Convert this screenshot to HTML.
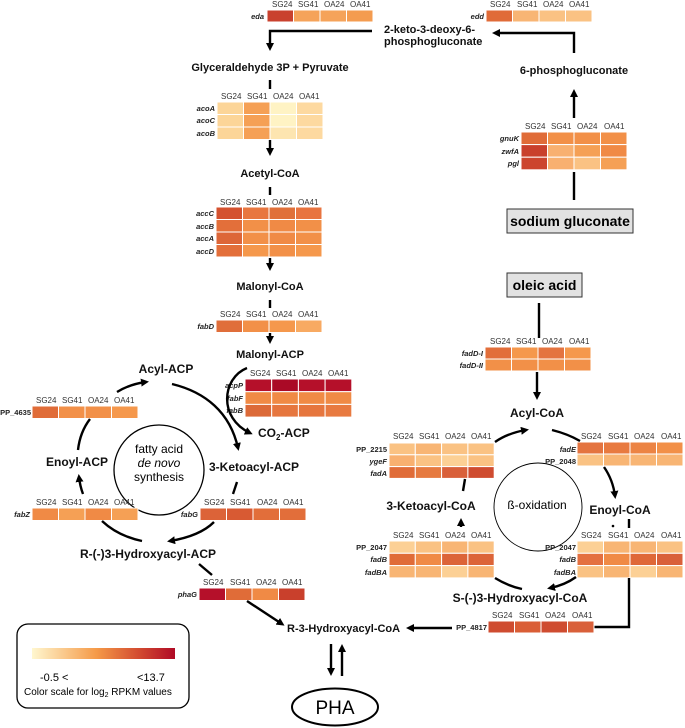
<!DOCTYPE html>
<html><head><meta charset="utf-8"><style>
html,body{margin:0;padding:0;background:#fff}
svg{display:block}
text{font-family:"Liberation Sans",sans-serif}
.b{font-weight:bold;font-size:11px;fill:#111}
.h{font-size:8px;fill:#333}
.g{font-size:7.5px;font-style:italic;font-weight:bold;fill:#222}
.gp{font-size:7.5px;font-weight:bold;fill:#222}
rect.c{stroke:#fff;stroke-width:1}
.ln{stroke:#000;stroke-width:2.4;fill:none}
</style></head><body>
<svg width="685" height="728" viewBox="0 0 685 728" xmlns="http://www.w3.org/2000/svg">
<defs>
<marker id="a" markerWidth="8" markerHeight="8" refX="5" refY="4" orient="auto" markerUnits="userSpaceOnUse"><path d="M0,0 L8,4 L0,8 Z" fill="#000"/></marker>
<linearGradient id="lg" x1="0" x2="1"><stop offset="0" stop-color="#fff7cf"/><stop offset="0.45" stop-color="#f59a48"/><stop offset="0.75" stop-color="#d24a30"/><stop offset="1" stop-color="#b00a26"/></linearGradient>
</defs>

<!-- eda -->
<g class="h"><text x="272" y="7">SG24</text><text x="298" y="7">SG41</text><text x="324" y="7">OA24</text><text x="350" y="7">OA41</text></g>
<text class="g" x="264" y="19" text-anchor="end">eda</text>
<rect class="c" x="267" y="10" width="26.5" height="12" fill="#c9412e"/><rect class="c" x="293.5" y="10" width="26.5" height="12" fill="#f5a35a"/><rect class="c" x="320" y="10" width="26.5" height="12" fill="#f5a35a"/><rect class="c" x="346.5" y="10" width="26.5" height="12" fill="#f49c50"/>

<!-- edd -->
<g class="h"><text x="490" y="7">SG24</text><text x="517" y="7">SG41</text><text x="543" y="7">OA24</text><text x="569" y="7">OA41</text></g>
<text class="g" x="484" y="19" text-anchor="end">edd</text>
<rect class="c" x="486" y="10" width="26.5" height="12" fill="#e06b38"/><rect class="c" x="512.5" y="10" width="26.5" height="12" fill="#f8b574"/><rect class="c" x="539" y="10" width="26.5" height="12" fill="#fac283"/><rect class="c" x="565.5" y="10" width="26.5" height="12" fill="#fac283"/>

<text class="b" x="384" y="33">2-keto-3-deoxy-6-</text>
<text class="b" x="384" y="45">phosphogluconate</text>
<path class="ln" d="M372,31 L270,31 L270,48" marker-end="url(#a)"/>
<path class="ln" d="M574,53 L574,33 L495,33" marker-end="url(#a)"/>
<text class="b" x="574" y="74" text-anchor="middle">6-phosphogluconate</text>
<path class="ln" d="M574,118 L574,92" marker-end="url(#a)"/>
<path class="ln" d="M574,172 L574,200"/>

<!-- gnuK -->
<g class="h"><text x="525" y="129">SG24</text><text x="551" y="129">SG41</text><text x="577" y="129">OA24</text><text x="604" y="129">OA41</text></g>
<text class="g" x="519" y="141" text-anchor="end">gnuK</text><text class="g" x="519" y="154" text-anchor="end">zwfA</text><text class="g" x="519" y="166" text-anchor="end">pgl</text>
<rect class="c" x="521" y="132" width="26.5" height="12.6" fill="#e06c38"/><rect class="c" x="547.5" y="132" width="26.5" height="12.6" fill="#f29048"/><rect class="c" x="574" y="132" width="26.5" height="12.6" fill="#f29048"/><rect class="c" x="600.5" y="132" width="26.5" height="12.6" fill="#f29048"/>
<rect class="c" x="521" y="144.6" width="26.5" height="12.6" fill="#c9402c"/><rect class="c" x="547.5" y="144.6" width="26.5" height="12.6" fill="#f8b070"/><rect class="c" x="574" y="144.6" width="26.5" height="12.6" fill="#f5a055"/><rect class="c" x="600.5" y="144.6" width="26.5" height="12.6" fill="#f08a45"/>
<rect class="c" x="521" y="157.2" width="26.5" height="12.6" fill="#cc452e"/><rect class="c" x="547.5" y="157.2" width="26.5" height="12.6" fill="#f8b070"/><rect class="c" x="574" y="157.2" width="26.5" height="12.6" fill="#fac283"/><rect class="c" x="600.5" y="157.2" width="26.5" height="12.6" fill="#f5a055"/>

<rect x="507" y="209" width="126" height="24" fill="#e2e2e2" stroke="#333" stroke-width="1"/>
<text x="570" y="226" text-anchor="middle" style="font-weight:bold;font-size:14px">sodium gluconate</text>
<rect x="507" y="273" width="75" height="24" fill="#e2e2e2" stroke="#333" stroke-width="1"/>
<text x="544.5" y="290" text-anchor="middle" style="font-weight:bold;font-size:14px">oleic acid</text>

<!-- main column -->
<text class="b" x="270" y="71" text-anchor="middle">Glyceraldehyde 3P + Pyruvate</text>
<path class="ln" d="M270,80 L270,89"/>
<g class="h"><text x="221" y="99">SG24</text><text x="247" y="99">SG41</text><text x="273" y="99">OA24</text><text x="299" y="99">OA41</text></g>
<text class="g" x="215" y="111" text-anchor="end">acoA</text><text class="g" x="215" y="123" text-anchor="end">acoC</text><text class="g" x="215" y="136" text-anchor="end">acoB</text>
<rect class="c" x="217" y="102" width="26.5" height="12.5" fill="#fcd598"/><rect class="c" x="243.5" y="102" width="26.5" height="12.5" fill="#f5a055"/><rect class="c" x="270" y="102" width="26.5" height="12.5" fill="#fff3c4"/><rect class="c" x="296.5" y="102" width="26.5" height="12.5" fill="#fdd9a0"/>
<rect class="c" x="217" y="114.5" width="26.5" height="12.5" fill="#fcd598"/><rect class="c" x="243.5" y="114.5" width="26.5" height="12.5" fill="#f5a055"/><rect class="c" x="270" y="114.5" width="26.5" height="12.5" fill="#fff3c4"/><rect class="c" x="296.5" y="114.5" width="26.5" height="12.5" fill="#fdd9a0"/>
<rect class="c" x="217" y="127" width="26.5" height="12.5" fill="#fcd598"/><rect class="c" x="243.5" y="127" width="26.5" height="12.5" fill="#f5a055"/><rect class="c" x="270" y="127" width="26.5" height="12.5" fill="#fde5b0"/><rect class="c" x="296.5" y="127" width="26.5" height="12.5" fill="#fdd9a0"/>
<path class="ln" d="M270,140 L270,153" marker-end="url(#a)"/>
<text class="b" x="270" y="177" text-anchor="middle">Acetyl-CoA</text>
<path class="ln" d="M270,187 L270,195"/>
<g class="h"><text x="220" y="205">SG24</text><text x="246" y="205">SG41</text><text x="272" y="205">OA24</text><text x="298" y="205">OA41</text></g>
<text class="g" x="214" y="216" text-anchor="end">accC</text><text class="g" x="214" y="229" text-anchor="end">accB</text><text class="g" x="214" y="241" text-anchor="end">accA</text><text class="g" x="214" y="254" text-anchor="end">accD</text>
<rect class="c" x="216" y="207" width="26.5" height="12.5" fill="#d4512f"/><rect class="c" x="242.5" y="207" width="26.5" height="12.5" fill="#e87740"/><rect class="c" x="269" y="207" width="26.5" height="12.5" fill="#e0703a"/><rect class="c" x="295.5" y="207" width="26.5" height="12.5" fill="#e87440"/>
<rect class="c" x="216" y="219.5" width="26.5" height="12.5" fill="#e36f3a"/><rect class="c" x="242.5" y="219.5" width="26.5" height="12.5" fill="#f29048"/><rect class="c" x="269" y="219.5" width="26.5" height="12.5" fill="#f08a45"/><rect class="c" x="295.5" y="219.5" width="26.5" height="12.5" fill="#f29048"/>
<rect class="c" x="216" y="232" width="26.5" height="12.5" fill="#dd6638"/><rect class="c" x="242.5" y="232" width="26.5" height="12.5" fill="#f29048"/><rect class="c" x="269" y="232" width="26.5" height="12.5" fill="#f08a45"/><rect class="c" x="295.5" y="232" width="26.5" height="12.5" fill="#f29048"/>
<rect class="c" x="216" y="244.5" width="26.5" height="12.5" fill="#e36f3a"/><rect class="c" x="242.5" y="244.5" width="26.5" height="12.5" fill="#f5984c"/><rect class="c" x="269" y="244.5" width="26.5" height="12.5" fill="#f29048"/><rect class="c" x="295.5" y="244.5" width="26.5" height="12.5" fill="#f5984c"/>
<path class="ln" d="M270,258 L270,268" marker-end="url(#a)"/>
<text class="b" x="270" y="290" text-anchor="middle">Malonyl-CoA</text>
<path class="ln" d="M270,300 L270,308"/>
<g class="h"><text x="220" y="317">SG24</text><text x="246" y="317">SG41</text><text x="272" y="317">OA24</text><text x="298" y="317">OA41</text></g>
<text class="g" x="214" y="329" text-anchor="end">fabD</text>
<rect class="c" x="216" y="320" width="26.5" height="12.5" fill="#e06e3a"/><rect class="c" x="242.5" y="320" width="26.5" height="12.5" fill="#f29048"/><rect class="c" x="269" y="320" width="26.5" height="12.5" fill="#f5984c"/><rect class="c" x="295.5" y="320" width="26.5" height="12.5" fill="#f8aa62"/>
<path class="ln" d="M270,333 L270,341" marker-end="url(#a)"/>
<text class="b" x="270" y="358" text-anchor="middle">Malonyl-ACP</text>

<!-- acpP -->
<g class="h"><text x="250" y="376">SG24</text><text x="276" y="376">SG41</text><text x="302" y="376">OA24</text><text x="328" y="376">OA41</text></g>
<text class="g" x="243" y="388" text-anchor="end">acpP</text><text class="g" x="243" y="401" text-anchor="end">fabF</text><text class="g" x="243" y="413" text-anchor="end">fabB</text>
<rect class="c" x="245" y="379" width="26.7" height="12.7" fill="#b5102a"/><rect class="c" x="271.7" y="379" width="26.7" height="12.7" fill="#aa0a26"/><rect class="c" x="298.4" y="379" width="26.7" height="12.7" fill="#b5102a"/><rect class="c" x="325.1" y="379" width="26.7" height="12.7" fill="#b5102a"/>
<rect class="c" x="245" y="391.7" width="26.7" height="12.7" fill="#f08a45"/><rect class="c" x="271.7" y="391.7" width="26.7" height="12.7" fill="#f08a45"/><rect class="c" x="298.4" y="391.7" width="26.7" height="12.7" fill="#f08a45"/><rect class="c" x="325.1" y="391.7" width="26.7" height="12.7" fill="#f08a45"/>
<rect class="c" x="245" y="404.4" width="26.7" height="12.7" fill="#dc6a38"/><rect class="c" x="271.7" y="404.4" width="26.7" height="12.7" fill="#e6763e"/><rect class="c" x="298.4" y="404.4" width="26.7" height="12.7" fill="#e6763e"/><rect class="c" x="325.1" y="404.4" width="26.7" height="12.7" fill="#e87a40"/>
<path class="ln" d="M247,368 C222,378 218,418 250,433" marker-end="url(#a)"/>
<text class="b" x="258" y="437" style="font-size:12px">CO<tspan font-size="8" dy="3">2</tspan><tspan dy="-3">-ACP</tspan></text>

<!-- fatty acid cycle -->
<circle cx="159" cy="470" r="45" fill="none" stroke="#000" stroke-width="1.3"/>
<text x="159" y="453" text-anchor="middle" style="font-size:12px">fatty acid</text>
<text x="159" y="467" text-anchor="middle" style="font-size:12px;font-style:italic">de novo</text>
<text x="159" y="481" text-anchor="middle" style="font-size:12px">synthesis</text>
<text class="b" x="166" y="373" text-anchor="middle" style="font-size:12px">Acyl-ACP</text>
<text class="b" x="77" y="466" text-anchor="middle" style="font-size:12px">Enoyl-ACP</text>
<text class="b" x="209" y="471" style="font-size:12px">3-Ketoacyl-ACP</text>
<text class="b" x="148" y="558" text-anchor="middle" style="font-size:12px">R-(-)3-Hydroxyacyl-ACP</text>

<g class="h"><text x="36" y="403">SG24</text><text x="62" y="403">SG41</text><text x="88" y="403">OA24</text><text x="114" y="403">OA41</text></g>
<text class="gp" x="31" y="415" text-anchor="end">PP_4635</text>
<rect class="c" x="32" y="406" width="26.5" height="12.5" fill="#e06c38"/><rect class="c" x="58.5" y="406" width="26.5" height="12.5" fill="#f29048"/><rect class="c" x="85" y="406" width="26.5" height="12.5" fill="#f29048"/><rect class="c" x="111.5" y="406" width="26.5" height="12.5" fill="#f5984c"/>
<g class="h"><text x="36" y="505">SG24</text><text x="62" y="505">SG41</text><text x="88" y="505">OA24</text><text x="114" y="505">OA41</text></g>
<text class="g" x="30" y="517" text-anchor="end">fabZ</text>
<rect class="c" x="32" y="508" width="26.5" height="12.5" fill="#f08a45"/><rect class="c" x="58.5" y="508" width="26.5" height="12.5" fill="#f5a055"/><rect class="c" x="85" y="508" width="26.5" height="12.5" fill="#f08a45"/><rect class="c" x="111.5" y="508" width="26.5" height="12.5" fill="#f5a055"/>
<g class="h"><text x="204" y="505">SG24</text><text x="230" y="505">SG41</text><text x="257" y="505">OA24</text><text x="283" y="505">OA41</text></g>
<text class="g" x="198" y="517" text-anchor="end">fabG</text>
<rect class="c" x="200" y="508" width="26.5" height="12.5" fill="#dc6338"/><rect class="c" x="226.5" y="508" width="26.5" height="12.5" fill="#d85a33"/><rect class="c" x="253" y="508" width="26.5" height="12.5" fill="#e26e3a"/><rect class="c" x="279.5" y="508" width="26.5" height="12.5" fill="#e26e3a"/>

<path class="ln" d="M117,392 Q130,384 146,382" marker-end="url(#a)"/>
<path class="ln" d="M172,384 C205,392 230,412 238,448" marker-end="url(#a)"/>
<path class="ln" d="M90,419 Q80,432 78,450"/>
<path class="ln" d="M83,494 Q80,486 79,477" marker-end="url(#a)"/>
<path class="ln" d="M102,521 Q118,536 142,541"/>
<path class="ln" d="M214,522 Q200,536 170,541" marker-end="url(#a)"/>
<path class="ln" d="M237,482 L233,494"/>
<path class="ln" d="M199,564 L212,575"/>

<!-- phaG -->
<g class="h"><text x="203" y="585">SG24</text><text x="230" y="585">SG41</text><text x="256" y="585">OA24</text><text x="282" y="585">OA41</text></g>
<text class="g" x="197" y="597" text-anchor="end">phaG</text>
<rect class="c" x="199" y="588" width="26.5" height="12.5" fill="#b5102a"/><rect class="c" x="225.5" y="588" width="26.5" height="12.5" fill="#e06c38"/><rect class="c" x="252" y="588" width="26.5" height="12.5" fill="#f08a45"/><rect class="c" x="278.5" y="588" width="26.5" height="12.5" fill="#c9402c"/>
<path class="ln" d="M247,601 L282,624" marker-end="url(#a)"/>
<text class="b" x="287" y="632">R-3-Hydroxyacyl-CoA</text>
<path class="ln" d="M331,644 L331,673" marker-end="url(#a)"/>
<path class="ln" d="M342,676 L342,647" marker-end="url(#a)"/>
<ellipse cx="335" cy="707" rx="43" ry="18.5" fill="#fff" stroke="#000" stroke-width="2"/>
<text x="335" y="714" text-anchor="middle" style="font-size:19px">PHA</text>

<!-- legend -->
<rect x="17" y="624" width="172" height="84" rx="11" fill="none" stroke="#000" stroke-width="1.3"/>
<rect x="32" y="648" width="143" height="11" fill="url(#lg)"/>
<text x="40" y="681" style="font-size:11px">-0.5 &lt;</text>
<text x="137" y="681" style="font-size:11px">&lt;13.7</text>
<text x="24" y="695" style="font-size:10px">Color scale for log<tspan font-size="7" dy="2">2</tspan><tspan dy="-2"> RPKM values</tspan></text>

<!-- beta oxidation -->
<path class="ln" d="M539,303 L539,338"/>
<g class="h"><text x="490" y="344">SG24</text><text x="516" y="344">SG41</text><text x="542" y="344">OA24</text><text x="569" y="344">OA41</text></g>
<text class="g" x="483" y="356" text-anchor="end">fadD-I</text><text class="g" x="483" y="368" text-anchor="end">fadD-II</text>
<rect class="c" x="485" y="347" width="26.5" height="12" fill="#e26e3a"/><rect class="c" x="511.5" y="347" width="26.5" height="12" fill="#f5984c"/><rect class="c" x="538" y="347" width="26.5" height="12" fill="#e47440"/><rect class="c" x="564.5" y="347" width="26.5" height="12" fill="#f5984c"/>
<rect class="c" x="485" y="359" width="26.5" height="12" fill="#f29048"/><rect class="c" x="511.5" y="359" width="26.5" height="12" fill="#f29048"/><rect class="c" x="538" y="359" width="26.5" height="12" fill="#f29048"/><rect class="c" x="564.5" y="359" width="26.5" height="12" fill="#f29048"/>
<path class="ln" d="M537,372 L537,397" marker-end="url(#a)"/>
<text class="b" x="537" y="417" text-anchor="middle" style="font-size:12px">Acyl-CoA</text>

<circle cx="538" cy="507" r="44" fill="none" stroke="#000" stroke-width="0.9"/>
<text x="537" y="509" text-anchor="middle" style="font-size:12px">ß-oxidation</text>
<text class="b" x="431" y="510" text-anchor="middle" style="font-size:12px">3-Ketoacyl-CoA</text>
<text class="b" x="620" y="514" text-anchor="middle" style="font-size:12px">Enoyl-CoA</text>
<text class="b" x="520" y="602" text-anchor="middle" style="font-size:12px">S-(-)3-Hydroxyacyl-CoA</text>

<g class="h"><text x="393" y="439">SG24</text><text x="419" y="439">SG41</text><text x="445" y="439">OA24</text><text x="471" y="439">OA41</text></g>
<text class="gp" x="387" y="452" text-anchor="end">PP_2215</text><text class="g" x="387" y="464" text-anchor="end">ygeF</text><text class="g" x="387" y="476" text-anchor="end">fadA</text>
<rect class="c" x="389" y="443" width="26.3" height="11.8" fill="#fac283"/><rect class="c" x="415.3" y="443" width="26.3" height="11.8" fill="#f8b574"/><rect class="c" x="441.6" y="443" width="26.3" height="11.8" fill="#fac283"/><rect class="c" x="467.9" y="443" width="26.3" height="11.8" fill="#fac283"/>
<rect class="c" x="389" y="454.8" width="26.3" height="11.8" fill="#f8b070"/><rect class="c" x="415.3" y="454.8" width="26.3" height="11.8" fill="#fac283"/><rect class="c" x="441.6" y="454.8" width="26.3" height="11.8" fill="#fcd095"/><rect class="c" x="467.9" y="454.8" width="26.3" height="11.8" fill="#fac283"/>
<rect class="c" x="389" y="466.6" width="26.3" height="11.8" fill="#e06c38"/><rect class="c" x="415.3" y="466.6" width="26.3" height="11.8" fill="#e67a40"/><rect class="c" x="441.6" y="466.6" width="26.3" height="11.8" fill="#d9603a"/><rect class="c" x="467.9" y="466.6" width="26.3" height="11.8" fill="#cf4c30"/>

<g class="h"><text x="581" y="439">SG24</text><text x="608" y="439">SG41</text><text x="634" y="439">OA24</text><text x="661" y="439">OA41</text></g>
<text class="g" x="576" y="452" text-anchor="end">fadE</text><text class="gp" x="576" y="464" text-anchor="end">PP_2048</text>
<rect class="c" x="577" y="442" width="26.5" height="12" fill="#e47440"/><rect class="c" x="603.5" y="442" width="26.5" height="12" fill="#e87a40"/><rect class="c" x="630" y="442" width="26.5" height="12" fill="#ec8444"/><rect class="c" x="656.5" y="442" width="26.5" height="12" fill="#f29048"/>
<rect class="c" x="577" y="454" width="26.5" height="12" fill="#fac283"/><rect class="c" x="603.5" y="454" width="26.5" height="12" fill="#f8b574"/><rect class="c" x="630" y="454" width="26.5" height="12" fill="#f8b574"/><rect class="c" x="656.5" y="454" width="26.5" height="12" fill="#f8b574"/>

<g class="h"><text x="393" y="538">SG24</text><text x="419" y="538">SG41</text><text x="445" y="538">OA24</text><text x="471" y="538">OA41</text></g>
<text class="gp" x="387" y="550" text-anchor="end">PP_2047</text><text class="g" x="387" y="562" text-anchor="end">fadB</text><text class="g" x="387" y="575" text-anchor="end">fadBA</text>
<rect class="c" x="389" y="541" width="26.3" height="12.3" fill="#fcd095"/><rect class="c" x="415.3" y="541" width="26.3" height="12.3" fill="#fac283"/><rect class="c" x="441.6" y="541" width="26.3" height="12.3" fill="#f8b574"/><rect class="c" x="467.9" y="541" width="26.3" height="12.3" fill="#fac283"/>
<rect class="c" x="389" y="553.3" width="26.3" height="12.3" fill="#e06c38"/><rect class="c" x="415.3" y="553.3" width="26.3" height="12.3" fill="#f08a45"/><rect class="c" x="441.6" y="553.3" width="26.3" height="12.3" fill="#dc6438"/><rect class="c" x="467.9" y="553.3" width="26.3" height="12.3" fill="#dc6438"/>
<rect class="c" x="389" y="565.6" width="26.3" height="12.3" fill="#f8b574"/><rect class="c" x="415.3" y="565.6" width="26.3" height="12.3" fill="#f8b574"/><rect class="c" x="441.6" y="565.6" width="26.3" height="12.3" fill="#fcd095"/><rect class="c" x="467.9" y="565.6" width="26.3" height="12.3" fill="#f8b574"/>

<g class="h"><text x="581" y="538">SG24</text><text x="608" y="538">SG41</text><text x="634" y="538">OA24</text><text x="661" y="538">OA41</text></g>
<text class="gp" x="576" y="550" text-anchor="end">PP_2047</text><text class="g" x="576" y="562" text-anchor="end">fadB</text><text class="g" x="576" y="575" text-anchor="end">fadBA</text>
<rect class="c" x="577" y="541" width="26.5" height="12.3" fill="#fcd095"/><rect class="c" x="603.5" y="541" width="26.5" height="12.3" fill="#f8b574"/><rect class="c" x="630" y="541" width="26.5" height="12.3" fill="#f8b574"/><rect class="c" x="656.5" y="541" width="26.5" height="12.3" fill="#fac283"/>
<rect class="c" x="577" y="553.3" width="26.5" height="12.3" fill="#e47040"/><rect class="c" x="603.5" y="553.3" width="26.5" height="12.3" fill="#f08a45"/><rect class="c" x="630" y="553.3" width="26.5" height="12.3" fill="#df6838"/><rect class="c" x="656.5" y="553.3" width="26.5" height="12.3" fill="#d9603a"/>
<rect class="c" x="577" y="565.6" width="26.5" height="12.3" fill="#fac283"/><rect class="c" x="603.5" y="565.6" width="26.5" height="12.3" fill="#f8b574"/><rect class="c" x="630" y="565.6" width="26.5" height="12.3" fill="#fcd095"/><rect class="c" x="656.5" y="565.6" width="26.5" height="12.3" fill="#f8b574"/>

<path class="ln" d="M495,442 Q508,433 526,430" marker-end="url(#a)"/>
<path class="ln" d="M552,430 Q568,434 580,441"/>
<path class="ln" d="M604,467 Q613,480 615,496" marker-end="url(#a)"/>
<path class="ln" d="M629,519 L629,528"/>
<circle cx="613" cy="526" r="1.3" fill="#000"/>
<path class="ln" d="M576,577 Q565,585 550,588" marker-end="url(#a)"/>
<path class="ln" d="M495,578 Q508,586 522,589"/>
<path class="ln" d="M461,527 L461,521" marker-end="url(#a)"/>
<path class="ln" d="M463,491 L465,479"/>
<path class="ln" d="M629,578 L629,627 L594,627"/>

<g class="h"><text x="492" y="618">SG24</text><text x="519" y="618">SG41</text><text x="545" y="618">OA24</text><text x="572" y="618">OA41</text></g>
<text class="gp" x="487" y="630" text-anchor="end">PP_4817</text>
<rect class="c" x="488" y="621" width="26.5" height="12" fill="#cf4c30"/><rect class="c" x="514.5" y="621" width="26.5" height="12" fill="#da5e36"/><rect class="c" x="541" y="621" width="26.5" height="12" fill="#cf4c30"/><rect class="c" x="567.5" y="621" width="26.5" height="12" fill="#d9603a"/>
<path class="ln" d="M452,628 L409,628" marker-end="url(#a)"/>
</svg>
</body></html>
